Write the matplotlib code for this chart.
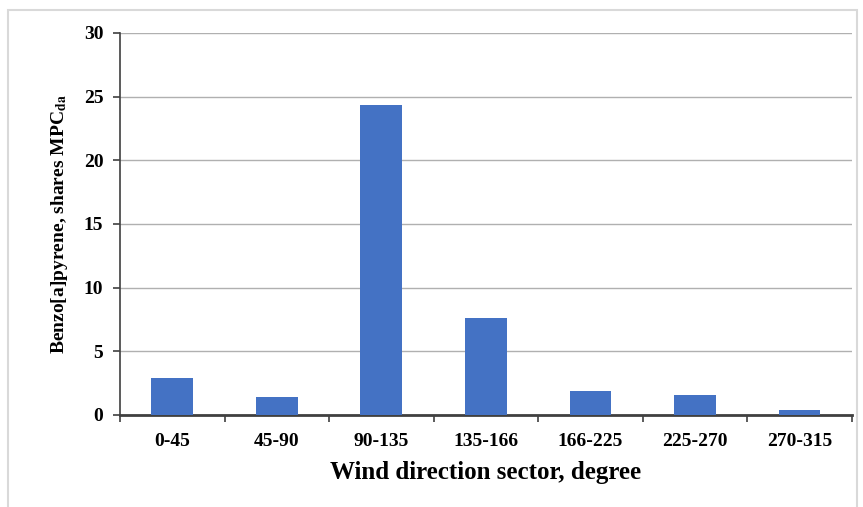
import matplotlib.pyplot as plt
import numpy as np
from matplotlib.patches import Rectangle

sectors = ['0-45', '45-90', '90-135', '135-166', '166-225', '225-270', '270-315']
shares = [2.9, 1.45, 24.35, 7.65, 1.9, 1.6, 0.42]
y_ticks = [0, 5, 10, 15, 20, 25, 30]

plt.rcParams['font.family'] = ['Liberation Serif', 'DejaVu Serif']
plt.rcParams['font.weight'] = 'bold'
plt.rcParams['mathtext.fontset'] = 'stix'

fig = plt.figure(figsize=(8.63, 5.07), dpi=100)
ax = fig.add_axes([0.139, 0.1815, 0.848, 0.7535])

# light frame round the chart
fig.patches.append(Rectangle((8 / 863, -0.01), 849 / 863, 1 - 10 / 507 + 0.01,
                             transform=fig.transFigure, fill=False,
                             edgecolor='#d9d9d9', linewidth=1.5))

x = np.arange(len(sectors))
ax.bar(x, shares, width=0.4, color='#4472c4', zorder=3)

ax.set_xlim(-0.5, len(sectors) - 0.5)
ax.set_ylim(0, 30)
ax.set_yticks(y_ticks)
ax.set_yticklabels([str(t) for t in y_ticks], fontsize=14, fontweight='bold')
ax.set_xticks(x)
ax.set_xticklabels(sectors, fontsize=14, fontweight='bold')
ax.tick_params(axis='x', length=0, pad=13)
ax.set_xticks(np.arange(-0.5, len(sectors)), minor=True)
ax.tick_params(axis='x', which='minor', length=5, width=1.2, color='#404040')
ax.tick_params(axis='y', length=5, width=1.2, color='#404040', pad=7)

ax.grid(axis='y', color='#b0b0b0', linewidth=1)
ax.set_axisbelow(True)
for side in ['top', 'right']:
    ax.spines[side].set_visible(False)
ax.spines['left'].set_color('#404040')
ax.spines['bottom'].set_color('#404040')
ax.spines['left'].set_linewidth(1.2)
ax.spines['bottom'].set_linewidth(2)

ax.set_xlabel('Wind direction sector, degree', fontsize=18, fontweight='bold', labelpad=8)
ax.set_ylabel(r'Benzo[a]pyrene, shares MPC$_{\mathbf{da}}$', fontsize=14,
              fontweight='bold', labelpad=10)

fig.savefig('out.png', dpi=100)
